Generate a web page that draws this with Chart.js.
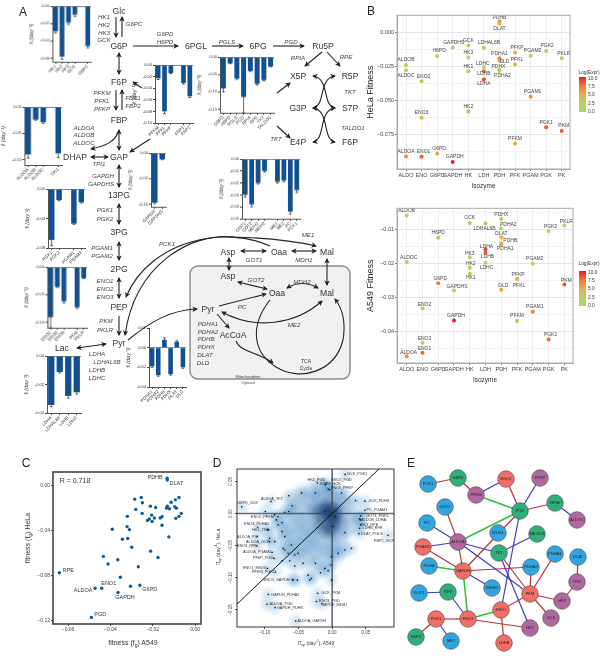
<!DOCTYPE html>
<html>
<head>
<meta charset="utf-8">
<title>Isozyme fitness</title>
<script src="https://cdn.jsdelivr.net/npm/chart.js@4/dist/chart.umd.js"></script>
<style>
  html, body { margin: 0; background: #fff; }
  #page { position: relative; width: 602px; height: 656px; overflow: hidden; }
  #page canvas { position: absolute; z-index: 1; }
  #overlay { position: absolute; left: 0; top: 0; z-index: 2; font-family: "Liberation Sans", Arial, sans-serif; }
</style>
</head>
<body>
<div id="page"></div>
<script>
// ---- panel A bar insets ----
const hkLabels = ['HK1','HK2','HK3','GCK','','G6PC'];
const hkValues = [-0.029,-0.058,-0.019,-0.010,null,-0.046];
const hkErrs = [0.002,0.003,0.002,0.002,0,0.002];
const hkTicks = [0,-0.02,-0.04,-0.06];

const pfkLabels = ['PFKM','PFKL','PFKP','','FBP1','FBP2'];
const pfkValues = [-0.023,-0.080,-0.014,null,-0.031,-0.054];
const pfkErrs = [0.002,0.004,0.001,0,0.002,0.002];
const pfkTicks = [0,-0.02,-0.04,-0.06,-0.08,-0.10];

const aldoLabels = ['ALDOA','ALDOB','ALDOC','','TPI1'];
const aldoValues = [-0.090,-0.024,-0.029,null,-0.088];
const aldoErrs = [0.007,0.001,0.002,0,0.008];
const aldoTicks = [0,-0.05,-0.10];

const gapdhLabels = ['GAPDH','GAPDHS'];
const gapdhValues = [-0.097,-0.012];
const gapdhErrs = [0.002,0.001];
const gapdhTicks = [0,-0.05,-0.10];

const pgkLabels = ['PGK1','PGK2','','PGAM1','PGAM2'];
const pgkValues = [-0.069,-0.015,null,-0.047,-0.018];
const pgkErrs = [0.008,0.001,0,0.001,0.001];
const pgkTicks = [0,-0.04,-0.08];

const enoLabels = ['ENO1','ENO2','ENO3','','PKM','PKLR'];
const enoValues = [-0.091,-0.036,-0.062,null,-0.073,-0.020];
const enoErrs = [0.019,0.001,0.003,0,0.002,0.001];
const enoTicks = [0,-0.05,-0.10];

const ldhLabels = ['LDHA','LDHAL6B','LDHB','LDHC'];
const ldhValues = [-0.0344,-0.0112,-0.0280,-0.0255];
const ldhErrs = [0.0012,0.0007,0.0016,0.0012];
const ldhTicks = [0,-0.02,-0.04];

const pdhLabels = ['PDHA1','PDHA2','PDHB','PDHX','DLAT','DLD'];
const pdhValues = [-0.019,-0.028,0.008,-0.027,0.006,-0.020];
const pdhErrs = [0.001,0.001,0.002,0.001,0.001,0.001];
const pdhTicks = [0.02,0,-0.02,-0.04];

const pppLabels = ['G6PD','H6PD','PGLS','PGD','RPIA','RPE','TKT','TALDO1'];
const pppValues = [-0.090,-0.018,-0.062,-0.115,-0.040,-0.077,-0.066,-0.027];
const pppErrs = [0.010,0.001,0.002,0.045,0.001,0.003,0.002,0.001];
const pppTicks = [0,-0.05,-0.10,-0.15];

const gotLabels = ['GOT1','GOT2','MDH1','MDH2','','ME1','ME2','PC','PCK1'];
const gotValues = [-0.030,-0.038,-0.020,-0.010,null,-0.019,-0.018,-0.044,-0.026];
const gotErrs = [0.002,0.002,0.001,0.001,0,0.001,0.001,0.002,0.002];
const gotTicks = [0,-0.01,-0.02,-0.03,-0.04,-0.05];

// ---- panel B ----
const isozymeGroups = ['ALDO','ENO','G6PD','GAPDH','HK','LDH','PDH','PFK','PGAM','PGK','PK'];
const helaNames = ['ALDOA','ALDOB','ALDOC','ENO1','ENO2','ENO3','G6PD','H6PD','GAPDH','GAPDHS','GCK','HK3','HK1','HK2','LDHAL6B','LDHC','LDHB','LDHA','PDHB','DLAT','PDHA1','DLD','PDHX','PDHA2','PFKP','PFKL','PFKM','PGAM2','PGAM1','PGK2','PGK1','PKLR','PKM'];
const helaGroup = [0,0,0,1,1,1,2,2,3,3,4,4,4,4,5,5,5,5,6,6,6,6,6,6,7,7,7,8,8,9,9,10,10];
const helaFitness = [-0.0908,-0.0238,-0.0277,-0.0910,-0.0357,-0.0624,-0.0886,-0.0172,-0.0949,-0.0109,-0.0095,-0.0184,-0.0284,-0.0578,-0.0112,-0.0252,-0.0282,-0.0345,0.0080,0.0066,-0.0189,-0.0206,-0.0272,-0.0282,-0.0146,-0.0235,-0.0813,-0.0170,-0.0471,-0.0136,-0.0694,-0.0189,-0.0721];
const helaExpr = [7,1,1,8.5,3,4,5.5,2,10,1.5,1,1.5,2,3.5,1,1,8,9,6.5,5,7.5,5.5,3,2.5,5,4.5,5.5,1.5,6.5,1,8.5,1,8.5];

const a549Names = ['ALDOA','ALDOB','ALDOC','ENO1','ENO2','ENO3','G6PD','H6PD','GAPDH','GAPDHS','GCK','HK3','HK2','HK1','LDHAL6B','LDHA','LDHB','LDHC','PDHX','PDHA2','DLAT','PDHB','PDHA1','DLD','PFKP','PFKL','PFKM','PGAM2','PGAM1','PGK2','PGK1','PKLR','PKM'];
const a549Group = [0,0,0,1,1,1,2,2,3,3,4,4,4,4,5,5,5,5,6,6,6,6,6,6,7,7,7,8,8,9,9,10,10];
const a549Fitness = [-0.0471,-0.0060,-0.0196,-0.0461,-0.0331,-0.0432,-0.0258,-0.0125,-0.0367,-0.0279,-0.0082,-0.0182,-0.0213,-0.0230,-0.0083,-0.0159,-0.0169,-0.0198,-0.0070,-0.0097,-0.0124,-0.0142,-0.0145,-0.0277,-0.0245,-0.0246,-0.0368,-0.0200,-0.0341,-0.0105,-0.0422,-0.0089,-0.0262];
const a549Expr = [7,1,1,8,3,3.5,7.5,3,10,1.5,1,1.5,1.5,3,1,9,8.5,1,3.5,1.5,5,5.5,5.5,5.5,5,5,3.5,1.5,7,1,8,1,8.5];

const helaYTicks = [0.0125,0,-0.0125,-0.025,-0.0375,-0.05,-0.0625,-0.075,-0.0875];
const helaYMajor = [0,-0.025,-0.05,-0.075];
const a549YTicks = [-0.005,-0.01,-0.015,-0.02,-0.025,-0.03,-0.035,-0.04,-0.045];
const a549YMajor = [-0.01,-0.02,-0.03,-0.04];
const exprLegendLabels = ['10.0','7.5','5.0','2.5','0.0'];

// ---- panel C ----
const cA549 = [-0.0132,-0.0131,-0.0076,-0.0093,-0.0113,-0.0254,-0.0285,-0.0249,-0.0211,-0.0186,-0.0131,-0.0135,-0.0121,-0.0096,-0.0088,-0.0065,-0.0076,-0.0091,-0.0280,-0.0250,-0.0320,-0.0205,-0.0192,-0.0216,-0.0225,-0.0203,-0.0156,-0.0165,-0.0156,-0.0321,-0.0310,-0.0391,-0.0124,-0.0343,-0.0318,-0.0299,-0.0210,-0.0175,-0.0433,-0.0365,-0.0411,-0.0268,-0.0641,-0.0353,-0.0261,-0.0305,-0.0441,-0.0472,-0.0364,-0.0490];
const cHeLa = [0.0068,0.0053,-0.0103,-0.0124,-0.0145,-0.0103,-0.0118,-0.0150,-0.0180,-0.0192,-0.0180,-0.0198,-0.0204,-0.0186,-0.0198,-0.0245,-0.0271,-0.0289,-0.0209,-0.0245,-0.0271,-0.0260,-0.0286,-0.0295,-0.0307,-0.0316,-0.0274,-0.0286,-0.0351,-0.0363,-0.0389,-0.0386,-0.0454,-0.0475,-0.0469,-0.0546,-0.0581,-0.0637,-0.0628,-0.0658,-0.0696,-0.0720,-0.0773,-0.0814,-0.0885,-0.0894,-0.0912,-0.0912,-0.0950,-0.1171];
const cNamed = {0:'PDHB',1:'DLAT',42:'RPE',44:'G6PD',46:'ENO1',47:'ALDOA',48:'GAPDH',49:'PGD'};
const cTicksX = [-0.06,-0.04,-0.02,0];
const cTicksY = [0,-0.04,-0.08,-0.12];

// ---- panel D ----
const dPairs = ['GCK_PGK1','HK1_PGD','ENO2_PGD','ENO3_GCK','ENO3_PFKP','G6PD_GCK','ALDOA_TKT','GCK_PDHX','PC_PGAM1','GOT1_PGK1','ALDOB_LDHA','HK3_RPE','LDHB_RPE','DLAT_PGLS','FBP2_GCK','ENO2_PFKM','ENO3_PDHA2','HK1_TKT','ALDOA_PC','ALDOA_GCK','ENO3_RPE','ALDOA_PGAM1','PFKP_PGD','ENO1_ENO3','PFKM_PGK1','ENO3_GAPDH','GAPDH_PDHA2','ALDOA_PGD','GAPDH_PDHX','ALDOA_GAPDH','GCK_PKM','ENO3_PGD','GAPDH_MDH1'];
const dPairA549 = [0.0193,-0.0218,-0.0084,-0.0099,-0.0035,-0.134,-0.0906,0.0485,0.0485,0.042,0.0406,0.042,0.0406,0.0396,0.0827,-0.099,-0.1104,-0.0941,-0.111,-0.0926,-0.1114,-0.0891,-0.0861,-0.096,-0.0841,-0.0589,-0.0946,-0.0965,-0.0847,-0.054,-0.0213,-0.0233,-0.0149];
const dPairHeLa = [0.0609,0.0474,0.0474,0.0448,0.037,0.0104,0.0187,0.0193,0.0052,-0.0036,-0.0083,-0.0177,-0.0229,-0.0313,-0.0339,0.0031,-0.0214,-0.0255,-0.0359,-0.0437,-0.0505,-0.0604,-0.0698,-0.0854,-0.0911,-0.1026,-0.126,-0.1411,-0.1464,-0.1672,-0.124,-0.137,-0.1401];
const dOtherA549 = [-0.0644,-0.0455,-0.0248,-0.0059,0.0139,0.0347,-0.0594,-0.0644,-0.0703,-0.0802,-0.0851,-0.0743,-0.0926,-0.0743,-0.0827,-0.0703,-0.0802,-0.096,-0.0851,-0.0728,-0.0604,-0.0653,-0.0554,-0.0743,-0.0629,-0.0554,-0.0505,-0.0431,-0.0356,-0.0332,-0.0248,-0.0173,-0.0109,-0.0059,-0.002,-0.001,0.0089,0.0188,0.0287,0.0188,0.0416,0.0015,-0.0579,-0.0515,-0.0307,0.004,-0.0109,-0.0703,-0.001];
const dOtherHeLa = [0.0276,0.0318,0.0318,0.038,0.0318,0.0203,0.012,0.0031,0.0021,-0.0047,-0.0021,-0.0141,-0.0386,-0.0281,-0.0099,-0.0359,-0.0177,-0.0255,-0.0438,-0.0542,-0.049,-0.062,-0.0646,-0.0735,-0.0735,-0.0818,-0.062,-0.0776,-0.0959,-0.1037,-0.0776,-0.0922,-0.0854,-0.0891,-0.0802,-0.0672,-0.062,-0.0568,-0.0542,-0.0297,-0.0099,-0.0203,-0.1037,-0.1037,-0.1011,-0.0047,0.0031,-0.0568,-0.1037];
const dDenseA549 = [-0.06,-0.05,-0.045,-0.04,-0.03,-0.02,-0.01,0,0.01,0.02,-0.055,-0.045,-0.035,-0.03,-0.02,-0.01,0.01,0.025,0.03,0.02,0.015,0.005,-0.005,-0.015,-0.025,-0.035,-0.045,-0.06,-0.05,-0.03,-0.015,0,0.01,-0.04,-0.07,-0.065,-0.02,-0.01,-0.03,0.005];
const dDenseHeLa = [0.01,0.02,0,0.03,0.025,0.035,0.03,0.03,0.025,0.02,-0.01,-0.02,-0.015,0.005,0.01,0.015,0.01,0.005,-0.01,-0.015,-0.03,-0.04,-0.05,-0.055,-0.05,-0.04,-0.04,-0.03,-0.055,-0.07,-0.08,-0.065,-0.055,-0.06,-0.02,-0.045,-0.03,-0.02,-0.03,-0.015];
const dCoreA549 = [0,0.002,-0.003,-0.006,0.004,-0.002,-0.01,0,-0.008,-0.015,-0.02,0.006,-0.004,-0.01,-0.025,-0.002,0.008,-0.015];
const dCoreHeLa = [0,0.002,-0.002,0.004,-0.006,-0.012,-0.005,-0.02,-0.025,0.002,-0.01,0.006,0.012,0.01,0.005,-0.03,-0.012,-0.02];
const dTicksX = [-0.10,-0.05,0,0.05];
const dTicksY = [0.05,0,-0.05,-0.10,-0.15];

// ---- panel E ----
const netNames = ['PCK1','G6PD','PFKM','ENO2','PFKP','PGD','RPIA','ALDOC','GOT2','PC','MDH1','TALDO1','ALDOA','PGAM1','TKT','PDHA1','DLAT','PDHB','GAPDH','PDHA2','TPI1','MDH2','GOT1','RPE','PKM','HK3','ENO1','GCK','ENO3','PGK1','HK1','H6PD','ME1','LDHB'];
const netX = [33,63,81,111,145,125,160,182,50,32,103,142,63,28,104,160,183,34,68,136,182,97,24,53,135,167,106,156,73,41,135,21,56,109];
const netY = [44,38,55,39,38,71,63,80,67,83,93,94,102,107,113,114,117,126,131,127,142,148,153,152,154,161,170,178,179,179,188,197,201,203];
const netType = ['transporter','other','pfk','red','pfk','other','other','pfk','transporter','transporter','transporter','other','pfk','red','other','transporter','transporter','transporter','red','transporter','pfk','transporter','transporter','other','red','pfk','red','pfk','red','red','pfk','other','transporter','red'];
const redEdges = [['PCK1','G6PD'],['G6PD','PFKM'],['ENO2','PGD'],['PGD','RPIA'],['PGD','GAPDH'],['GOT2','ALDOA'],['ALDOA','GAPDH'],['PGAM1','GAPDH'],['GAPDH','PDHA2'],['PDHA2','PKM'],['PKM','PDHA1'],['PKM','HK3'],['PKM','GCK'],['PKM','ENO1'],['TKT','PKM'],['ENO1','LDHB'],['ENO3','HK1'],['ENO3','PGK1'],['PGK1','H6PD'],['HK3','TPI1'],['TPI1','DLAT']];
const blueEdges = [['PFKM','ENO2'],['PFKP','PGD'],['RPIA','ALDOC'],['PC','ALDOA'],['PGAM1','ALDOA'],['ALDOA','TKT'],['ALDOA','PKM'],['TALDO1','TKT'],['GAPDH','MDH2'],['GOT1','RPE'],['RPE','ENO3'],['PGK1','ME1'],['PGD','ENO1'],['TKT','HK1']];
const greenEdges = [['PFKM','PGD'],['PGD','ALDOA'],['PDHB','GAPDH'],['GAPDH','ENO3'],['ENO3','ENO1']];

// ---- text and label placement ----
const helaLabelOffset = {ALDOC:[0,5.5],LDHC:[-1,-3],LDHB:[0,3],LDHA:[0,4.5],DLAT:[0,5],DLD:[5,1],PDHX:[-1,-3],PDHA2:[3,5],PDHB:[0,-4],PFKP:[2,-5],PFKL:[2,-5],PGAM2:[2,-5],LDHAL6B:[5,-5],GAPDHS:[1,-5],H6PD:[2,-5],G6PD:[2,-5],GAPDH:[2,-5],ENO1:[2,-5],ENO2:[2,-5],PKLR:[2,-5],PKM:[2,-5],PGK2:[1,-5],PGAM1:[2,-5]};
const a549LabelOffset = {ALDOC:[2,-4],LDHB:[2,4],LDHC:[1,5],LDHA:[1,-3],LDHAL6B:[-1,5],HK1:[1,4],HK2:[1,-4],HK3:[0,-4],PDHX:[0,-4],PDHA2:[7,-4],DLAT:[0,-4],PDHB:[9,-3],PDHA1:[4,4],PFKP:[1,-4],PFKL:[2,6],ALDOA:[2,-4],GAPDH:[2,-5],GAPDHS:[3,-4],G6PD:[2,-5],ENO1:[2,-4],ENO2:[2,-4],ENO3:[2,-4],PGK2:[2,-4],PKM:[2,-4],PGK1:[2,-5],PGAM2:[2,-5],PGAM1:[2,-5],PKLR:[2,-4],DLD:[2,-4]};
const cLabelOffset = {RPE:[9,-2],PDHB:[-12,-1],DLAT:[9,4],ENO1:[7,-5],ALDOA:[-12,2],G6PD:[10,4],GAPDH:[7,5],PGD:[9,-3]};
const dLabelOffset = {GCK_PGK1:[12,0],HK1_PGD:[-1,-3],ENO2_PGD:[15,-3],ENO3_GCK:[5,-1],ENO3_PFKP:[12,-2],G6PD_GCK:[6,-4],ALDOA_TKT:[1,-3],GCK_PDHX:[14,0],PC_PGAM1:[12,0],GOT1_PGK1:[17,0],ALDOB_LDHA:[14,1],HK3_RPE:[9,0],LDHB_RPE:[13,0],DLAT_PGLS:[13,0],FBP2_GCK:[-4,6],ENO2_PFKM:[-3,5],ENO3_PDHA2:[-1,-3],HK1_TKT:[-8,0],ALDOA_PC:[-10,0],ALDOA_GCK:[-12,0],ENO3_RPE:[-10,0],ALDOA_PGAM1:[-15,0],PFKP_PGD:[-11,0],ENO1_ENO3:[-13,0],PFKM_PGK1:[-12,0],ENO3_GAPDH:[-16,0],GAPDH_PDHA2:[17,0],ALDOA_PGD:[14,0],GAPDH_PDHX:[15,0],ALDOA_GAPDH:[16,0],GCK_PKM:[13,0],ENO3_PGD:[13,-1],GAPDH_MDH1:[12,1]};

const metabolites = [['Glc',119,11],['G6P',119,46],['6PGL',196,46],['6PG',258,46],['Ru5P',323,46],['X5P',298,76],['R5P',350,76],['G3P',298,108],['S7P',350,108],['E4P',298,142],['F6P',350,142],['F6P',119,82],['FBP',119,120],['DHAP',75,157],['GAP',119,157],['13PG',119,195],['3PG',119,232],['2PG',119,269],['PEP',119,307],['Pyr',119,343],['Lac',62,348],['Asp',228,252],['Oaa',279,252],['Mal',327,252],['Asp',228,276],['Oaa',277,293],['Mal',327,293],['Pyr',208,309],['AcCoA',233,335]];
const enzymes = [['HK1',104,16],['HK2',104,24],['HK3',104,32],['GCK',104,39],['G6PC',134,23],['G6PD',165,33],['H6PD',165,41],['PGLS',227,41],['PGD',291,41],['RPIA',298,57],['RPE',346,56],['TKT',350,91],['TALDO1',353,127],['TKT',276,138],['PFKM',102,92],['PFKL',102,100],['PFKP',102,108],['FBP1',133,97],['FBP2',133,105],['ALDOA',84,127],['ALDOB',84,134],['ALDOC',84,142],['TPI1',99,163],['GAPDH',103,175],['GAPDHS',101,183],['PGK1',105,209],['PGK2',105,218],['PGAM1',102,247],['PGAM2',102,255],['ENO1',105,280],['ENO2',105,288],['ENO3',105,296],['PKM',106,320],['PKLR',105,329],['LDHA',97,353],['LDHAL6B',107,361],['LDHB',97,369],['LDHC',97,377],['PCK1',167,243],['ME1',308,234],['GOT1',254,259],['MDH1',304,259],['GOT2',256,279],['MDH2',302,281],['PC',242,306],['ME2',294,324],['PDHA1',208,323],['PDHA2',208,331],['PDHB',206,338],['PDHX',206,346],['DLAT',205,354],['DLD',203,362]];

// arrows: path, then start/end heads
const arrows = [
  ['M116,17V37',0,1],['M122,37V17',0,1],['M133,46H178',0,1],['M119,53V74',1,1],
  ['M116,90V110',0,1],['M122,110V90',0,1],['M119,130V150',1,1],['M119,165V187',1,1],
  ['M119,204V224',1,1],['M119,242V260',1,1],['M119,278V298',1,1],['M119,316V335',0,1],
  ['M77,348L106,344',1,1],['M91,157H108',1,1],['M118,132C115,142 105,146 91,149',0,1],
  ['M142,88L133,82',0,1],['M150,139L130,152',0,1],
  ['M212,46H243',0,1],['M273,46H304',0,1],['M322,52L305,66',0,1],['M327,52L340,66',0,1],
  ['M277,93L290,83',0,1],['M277,126L290,138',0,1],
  ['M313,76C330,78 322,106 335,108',1,1],['M335,76C318,78 326,106 313,108',1,1],
  ['M313,108C330,110 322,140 335,142',1,1],['M335,108C318,110 326,140 313,142',1,1],
  ['M270,246C225,225 150,240 126,297',0,1],
  ['M125,335C135,265 190,232 235,237C265,238 295,241 316,246',1,1],
  ['M128,340C150,322 170,310 197,309',0,1],
  ['M241,251H266',1,1],['M292,251H316',1,1],['M327,259V285',1,1],['M229,258V270',1,1],
  ['M238,282L267,289',1,1],['M287,288Q302,279 318,288',1,1],
  ['M219,306L266,294',0,1],['M217,314L229,328',0,1],
  ['M222,312C255,330 295,325 322,301',1,1],
  ['M236,341C240,352 258,352 273,363',0,1],
  ['M270,300C250,325 252,352 276,367C300,382 335,372 343,340C346,322 342,308 335,299',0,1]
];

// ---- helpers ----
const page = document.getElementById('page');
Chart.defaults.font.family = '"Liberation Sans", Arial, sans-serif';
Chart.defaults.animation = false;
Chart.defaults.responsive = false;
Chart.defaults.layout.autoPadding = false;
Chart.defaults.plugins.legend.display = false;
Chart.defaults.plugins.tooltip.enabled = false;

function addCanvas(box, pad) {
  const c = document.createElement('canvas');
  const w = box.r - box.l + pad.l + pad.r, h = box.b - box.t + pad.t + pad.b;
  c.width = w; c.height = h;
  c.style.cssText = `left:${box.l - pad.l}px;top:${box.t - pad.t}px;width:${w}px;height:${h}px`;
  page.appendChild(c);
  return c;
}

const errorBarPlugin = errs => ({
  id: 'errorBars',
  afterDatasetsDraw(chart) {
    const { ctx, scales: { x, y } } = chart;
    const vals = chart.data.datasets[0].data;
    ctx.save();
    ctx.strokeStyle = '#222';
    ctx.lineWidth = 0.7;
    vals.forEach((v, i) => {
      if (v === null) return;
      const px = x.getPixelForValue(i);
      const end = y.getPixelForValue(v + Math.sign(v) * errs[i]);
      ctx.beginPath();
      ctx.moveTo(px, y.getPixelForValue(v));
      ctx.lineTo(px, end);
      ctx.moveTo(px - 1.4, end);
      ctx.lineTo(px + 1.4, end);
      ctx.stroke();
    });
    ctx.restore();
  }
});

const framePlugin = (color, width) => ({
  id: 'frame',
  afterDraw(chart) {
    const { ctx, chartArea: a } = chart;
    ctx.save();
    ctx.strokeStyle = color;
    ctx.lineWidth = width;
    ctx.strokeRect(a.left, a.top, a.right - a.left, a.bottom - a.top);
    ctx.restore();
  }
});

const labelPlugin = (dsIndex, names, offsets, font, color) => ({
  id: 'labels' + dsIndex,
  afterDatasetsDraw(chart) {
    const { ctx, scales: { x, y } } = chart;
    ctx.save();
    ctx.font = font;
    ctx.fillStyle = color;
    ctx.textAlign = 'center';
    ctx.textBaseline = 'middle';
    chart.data.datasets[dsIndex].data.forEach((p, i) => {
      if (!names[i]) return;
      const off = offsets[names[i]] || [0, -5];
      ctx.fillText(names[i], x.getPixelForValue(p.x) + off[0], y.getPixelForValue(p.y) + off[1]);
    });
    ctx.restore();
  }
});

function barInset(box, labels, values, errs, ticks, yMin) {
  const yMax = Math.max(...ticks);
  const pad = { l: box.l < 30 ? box.l : 24, r: 2, t: 4, b: 24 };
  new Chart(addCanvas(box, pad), {
    type: 'bar',
    data: { labels, datasets: [{ data: values, backgroundColor: '#12508f', barPercentage: 0.74, categoryPercentage: 1 }] },
    options: {
      layout: { padding: { top: pad.t, right: pad.r } },
      scales: {
        x: {
          grid: { offset: false, drawOnChartArea: false, tickLength: 2, tickColor: c => labels[c.index] === '' ? 'transparent' : '#444' },
          border: { color: '#555' },
          ticks: { autoSkip: false, minRotation: 45, maxRotation: 45, padding: 0, font: { size: 4.5 }, color: '#333' },
          afterFit: a => { a.height = pad.b; }
        },
        y: {
          min: yMin, max: yMax,
          afterBuildTicks: a => { a.ticks = ticks.map(value => ({ value })); },
          grid: { tickLength: 2, tickColor: '#444', color: c => c.tick.value === 0 ? '#888' : 'transparent', lineWidth: 1 },
          border: { color: '#555' },
          ticks: { autoSkip: false, padding: 1, font: { size: 4 }, color: '#333', callback: v => v.toFixed(2) },
          title: { display: true, text: 'f\u1D62 (day\u207B\u00B9)', font: { size: 5.5, style: 'italic' }, color: '#333', padding: 0 },
          afterFit: a => { a.width = pad.l; }
        }
      }
    },
    plugins: [errorBarPlugin(errs)]
  });
}

// expression to colour, same ramp as the legend
const exprStops = [[0,[168,214,112]],[2.5,[190,205,95]],[5,[226,176,78]],[7.5,[240,125,48]],[10,[236,26,48]]];
function exprColor(v) {
  for (let i = 1; i < exprStops.length; i++) {
    if (v <= exprStops[i][0]) {
      const [a, ca] = exprStops[i - 1], [b, cb] = exprStops[i];
      const t = (v - a) / (b - a);
      return `rgb(${ca.map((c, k) => Math.round(c + (cb[k] - c) * t)).join(',')})`;
    }
  }
  return 'rgb(236,26,48)';
}

function isozymePanel(box, xMin, xMax, yMin, yMax, names, groups, fit, expr, yTicks, yMajor, yTitle, offsets, fmt) {
  const pad = { l: 32, r: 3, t: 3, b: 22 };
  new Chart(addCanvas(box, pad), {
    type: 'scatter',
    data: { datasets: [{
      data: fit.map((y, i) => ({ x: groups[i], y })),
      pointRadius: 2, pointBorderWidth: 0,
      pointBackgroundColor: expr.map(exprColor)
    }] },
    options: {
      layout: { padding: { top: pad.t, right: pad.r } },
      scales: {
        x: {
          type: 'linear', min: xMin, max: xMax,
          afterBuildTicks: a => { a.ticks = isozymeGroups.map((_, value) => ({ value })); },
          grid: { color: '#eee', tickLength: 2, tickColor: '#777' }, border: { color: '#aaa' },
          ticks: { autoSkip: false, maxRotation: 0, padding: 1, font: { size: 5.5 }, color: '#444', callback: v => isozymeGroups[v] },
          title: { display: true, text: 'Isozyme', font: { size: 6.5 }, color: '#333', padding: 1 },
          afterFit: a => { a.height = pad.b; }
        },
        y: {
          min: yMin, max: yMax,
          afterBuildTicks: a => { a.ticks = yTicks.map(value => ({ value })); },
          grid: { color: c => yMajor.includes(c.tick.value) ? '#e6e6e6' : '#f3f3f3', tickLength: 2, tickColor: c => yMajor.includes(c.tick.value) ? '#777' : 'transparent' },
          border: { color: '#aaa' },
          ticks: { autoSkip: false, padding: 1, font: { size: 5.5 }, color: '#444', callback: v => yMajor.includes(v) ? fmt(v) : '' },
          title: { display: true, text: yTitle, font: { size: 9 }, color: '#222', padding: 0 },
          afterFit: a => { a.width = pad.l; }
        }
      }
    },
    plugins: [framePlugin('#aaa', 1), labelPlugin(0, names, offsets, '5px "Liberation Sans"', '#444')]
  });
}

// ---- panel A ----
barInset({ l: 52, t: 6, r: 90.5, b: 61.5 }, hkLabels, hkValues, hkErrs, hkTicks, -0.064);
barInset({ l: 155, t: 65, r: 193, b: 123 }, pfkLabels, pfkValues, pfkErrs, pfkTicks, -0.10);
barInset({ l: 24, t: 107, r: 61.5, b: 165 }, aldoLabels, aldoValues, aldoErrs, aldoTicks, -0.11);
barInset({ l: 151, t: 153, r: 166, b: 206.5 }, gapdhLabels, gapdhValues, gapdhErrs, gapdhTicks, -0.105);
barInset({ l: 48, t: 189, r: 85, b: 248 }, pgkLabels, pgkValues, pgkErrs, pgkTicks, -0.08);
barInset({ l: 47, t: 267, r: 86.5, b: 327.5 }, enoLabels, enoValues, enoErrs, enoTicks, -0.11);
barInset({ l: 46.5, t: 356, r: 81, b: 413 }, ldhLabels, ldhValues, ldhErrs, ldhTicks, -0.04);
barInset({ l: 149, t: 328, r: 186, b: 387 }, pdhLabels, pdhValues, pdhErrs, pdhTicks, -0.04);
barInset({ l: 219.5, t: 57, r: 273.5, b: 112.5 }, pppLabels, pppValues, pppErrs, pppTicks, -0.16);
barInset({ l: 241.7, t: 159.3, r: 300.2, b: 219 }, gotLabels, gotValues, gotErrs, gotTicks, -0.05);

// ---- panel B ----
const minusFmt3 = v => (v < 0 ? '\u2212' : '') + Math.abs(v).toFixed(3);
const minusFmt2 = v => (v < 0 ? '\u2212' : '') + Math.abs(v).toFixed(2);
isozymePanel({ l: 397, t: 14, r: 570, b: 169 }, -0.578, 10.53, -0.1, 0.0126, helaNames, helaGroup, helaFitness, helaExpr, helaYTicks, helaYMajor, 'HeLa Fitness', helaLabelOffset, minusFmt3);
isozymePanel({ l: 397, t: 207, r: 573, b: 363 }, -0.615, 10.55, -0.0491, -0.0039, a549Names, a549Group, a549Fitness, a549Expr, a549YTicks, a549YMajor, 'A549 Fitness', a549LabelOffset, minusFmt2);

// ---- panel C ----
(() => {
  const box = { l: 53, t: 471, r: 201, b: 624 };
  const pad = { l: 22, r: 3, t: 3, b: 10 };
  const names = cA549.map((_, i) => cNamed[i]);
  new Chart(addCanvas(box, pad), {
    type: 'scatter',
    data: { datasets: [{ data: cA549.map((x, i) => ({ x, y: cHeLa[i] })), pointRadius: 1.7, pointBorderWidth: 0, pointBackgroundColor: '#0f5a96' }] },
    options: {
      layout: { padding: { top: pad.t, right: pad.r } },
      scales: {
        x: {
          min: -0.0671, max: 0.0028,
          afterBuildTicks: a => { a.ticks = cTicksX.map(value => ({ value })); },
          grid: { drawOnChartArea: false, tickLength: 2, tickColor: '#444' }, border: { display: false },
          ticks: { autoSkip: false, maxRotation: 0, padding: 1, font: { size: 5 }, color: '#444', callback: minusFmt2 },
          afterFit: a => { a.height = pad.b; }
        },
        y: {
          min: -0.123, max: 0.0124,
          afterBuildTicks: a => { a.ticks = cTicksY.map(value => ({ value })); },
          grid: { drawOnChartArea: false, tickLength: 2, tickColor: '#444' }, border: { display: false },
          ticks: { autoSkip: false, padding: 1, font: { size: 5 }, color: '#444', callback: minusFmt2 },
          afterFit: a => { a.width = pad.l; }
        }
      }
    },
    plugins: [framePlugin('#444', 1.6), labelPlugin(0, names, cLabelOffset, '5.5px "Liberation Sans"', '#333')]
  });
})();

// ---- panel D ----
function blobImage(size, rgb, alpha) {
  const c = document.createElement('canvas');
  c.width = c.height = size;
  const g = c.getContext('2d');
  const grad = g.createRadialGradient(size / 2, size / 2, 0, size / 2, size / 2, size / 2);
  grad.addColorStop(0, `rgba(${rgb},${alpha})`);
  grad.addColorStop(0.5, `rgba(${rgb},${alpha * 0.45})`);
  grad.addColorStop(1, `rgba(${rgb},0)`);
  g.fillStyle = grad;
  g.fillRect(0, 0, size, size);
  return c;
}
(() => {
  const box = { l: 237, t: 469, r: 394, b: 627 };
  const pad = { l: 16, r: 3, t: 3, b: 12 };
  const dotsX = dPairA549.concat(dOtherA549), dotsY = dPairHeLa.concat(dOtherHeLa);
  const dots = dotsX.map((x, i) => ({ x, y: dotsY[i] }));
  const dense = dDenseA549.map((x, i) => ({ x, y: dDenseHeLa[i] }));
  const core = dCoreA549.map((x, i) => ({ x, y: dCoreHeLa[i] }));
  const line = (pts, color, width) => ({ data: pts, showLine: true, pointRadius: 0, borderColor: color, borderWidth: width });
  new Chart(addCanvas(box, pad), {
    type: 'scatter',
    data: { datasets: [
      { data: dots, pointRadius: 0.8, pointBorderWidth: 0, pointBackgroundColor: '#111' },
      line([{ x: -0.2, y: -0.2 }, { x: 0.1, y: 0.1 }], '#111', 1),
      line([{ x: 0, y: -0.2 }, { x: 0, y: 0.1 }], 'rgba(60,70,85,0.8)', 1.6),
      line([{ x: -0.2, y: 0 }, { x: 0.1, y: 0 }], 'rgba(60,70,85,0.8)', 1.6),
      { data: core, pointStyle: blobImage(22, '8,48,107', 0.36) },
      { data: dense, pointStyle: blobImage(30, '33,113,181', 0.26) },
      { data: dots, pointStyle: blobImage(18, '90,160,210', 0.36) }
    ] },
    options: {
      layout: { padding: { top: pad.t, right: pad.r } },
      scales: {
        x: {
          min: -0.141, max: 0.0916,
          afterBuildTicks: a => { a.ticks = dTicksX.map(value => ({ value })); },
          grid: { drawOnChartArea: false, tickLength: 2, tickColor: '#444' }, border: { display: false },
          ticks: { autoSkip: false, maxRotation: 0, padding: 1, font: { size: 4.5 }, color: '#444', callback: minusFmt2 },
          afterFit: a => { a.height = pad.b; }
        },
        y: {
          min: -0.1766, max: 0.0693,
          afterBuildTicks: a => { a.ticks = dTicksY.map(value => ({ value })); },
          grid: { drawOnChartArea: false, tickLength: 2, tickColor: '#444' }, border: { display: false },
          ticks: { display: false },
          afterFit: a => { a.width = pad.l; }
        }
      }
    },
    plugins: [
      framePlugin('#222', 0.9),
      labelPlugin(0, dPairs, dLabelOffset, '3.8px "Liberation Sans"', '#333'),
      {
        id: 'rotatedTicks',
        afterDraw(chart) {
          const { ctx, scales: { y } } = chart;
          ctx.save();
          ctx.font = '4.5px "Liberation Sans"';
          ctx.fillStyle = '#444';
          ctx.textAlign = 'center';
          dTicksY.forEach(v => {
            ctx.save();
            ctx.translate(pad.l - 5, y.getPixelForValue(v));
            ctx.rotate(-Math.PI / 2);
            ctx.fillText(minusFmt2(v), 0, 0);
            ctx.restore();
          });
          ctx.restore();
        }
      }
    ]
  });
})();

// ---- panel E ----
(() => {
  const box = { l: 395, t: 440, r: 602, b: 656 };
  const nodeColor = { red: '#f26d66', other: '#2fb07b', pfk: '#b0689f', transporter: '#31a5e0' };
  const pt = n => { const i = netNames.indexOf(n); return { x: netX[i], y: netY[i] }; };
  const edge = (e, color, width) => ({ data: [pt(e[0]), pt(e[1])], showLine: true, pointRadius: 0, borderColor: color, borderWidth: width });
  new Chart(addCanvas(box, { l: 0, r: 0, t: 0, b: 0 }), {
    type: 'scatter',
    data: { datasets: [
      {
        data: netNames.map(pt), pointRadius: 8.3, pointBorderWidth: 0.6, pointBorderColor: '#444',
        pointBackgroundColor: netType.map(t => nodeColor[t])
      },
      ...greenEdges.map(e => edge(e, '#2fbf3a', 1.5)),
      ...blueEdges.map(e => edge(e, '#3b3bc4', 1.2)),
      ...redEdges.map(e => edge(e, '#b8333a', 1.2))
    ] },
    options: {
      scales: {
        x: { display: false, min: 0, max: 207 },
        y: { display: false, min: 0, max: 216, reverse: true }
      }
    },
    plugins: [labelPlugin(0, netNames, Object.fromEntries(netNames.map(n => [n, [0, 0]])), '4px "Liberation Sans"', '#222')]
  });
})();

// ---- pathway drawing, panel letters, legends, axis titles ----
(() => {
  const txt = (s, x, y, size, extra = '') => `<text x="${x}" y="${y}" font-size="${size}" text-anchor="middle" dominant-baseline="central" ${extra}>${s}</text>`;
  let s = `<svg id="overlay" xmlns="http://www.w3.org/2000/svg" width="602" height="656">
  <defs>
    <marker id="head" viewBox="0 0 6 6" refX="5" refY="3" markerWidth="5.5" markerHeight="5.5" markerUnits="userSpaceOnUse" orient="auto-start-reverse"><path d="M0,0L6,3L0,6L1.6,3z" fill="#222"/></marker>
    <linearGradient id="exprRamp" x1="0" y1="1" x2="0" y2="0">
      <stop offset="0" stop-color="rgb(168,214,112)"/><stop offset="0.25" stop-color="rgb(190,205,95)"/><stop offset="0.5" stop-color="rgb(226,176,78)"/><stop offset="0.75" stop-color="rgb(240,125,48)"/><stop offset="1" stop-color="rgb(236,26,48)"/>
    </linearGradient>
  </defs>
  <rect x="190" y="266" width="160" height="113" rx="8" fill="#f1f1f3" stroke="#8a8a8a" stroke-width="1.4" style="mix-blend-mode:multiply"/>`;
  arrows.forEach(([d, start, end]) => {
    s += `<path d="${d}" fill="none" stroke="#222" stroke-width="1.1"${start ? ' marker-start="url(#head)"' : ''}${end ? ' marker-end="url(#head)"' : ''}/>`;
  });
  metabolites.forEach(([t, x, y]) => { s += txt(t, x, y, 8.6, 'fill="#333"'); });
  enzymes.forEach(([t, x, y]) => { s += txt(t, x, y, 6.2, 'fill="#444" font-style="italic"'); });
  s += txt('TCA', 306, 361, 5, 'fill="#333"') + txt('Cycle', 306, 368, 5, 'fill="#333"');
  s += txt('Mitochondrion', 248, 376, 4, 'fill="#444"') + txt('Cytosol', 248, 382, 4, 'fill="#444"');
  [['A', 23, 12], ['B', 371, 11], ['C', 26, 463], ['D', 217, 463], ['E', 411, 463]].forEach(([t, x, y]) => { s += txt(t, x, y, 12, 'fill="#222"'); });

  [[77, 72], [271, 263]].forEach(([top, titleY]) => {
    s += txt('Log(Expr)', 589, titleY, 4.8, 'fill="#333"');
    s += `<rect x="579" y="${top}" width="7" height="35" fill="url(#exprRamp)"/>`;
    exprLegendLabels.forEach((t, i) => {
      s += `<text x="588" y="${top + 1 + i * 8.4}" font-size="4.8" dominant-baseline="central" fill="#333">${t}</text>`;
    });
  });

  s += txt('R = 0.718', 75, 480, 7, 'fill="#333"');
  const sub = t => `<tspan baseline-shift="sub" font-size="5">${t}</tspan>`;
  s += txt(`fitness (f${sub('g')}) A549`, 133, 642, 7, 'fill="#333"');
  s += txt(`fitness (f${sub('g')}) HeLa`, 27, 538, 7, 'fill="#333" transform="rotate(-90 27 538)"');
  const sub4 = t => `<tspan baseline-shift="sub" font-size="3.4">${t}</tspan>`;
  const sup4 = t => `<tspan baseline-shift="super" font-size="3.4">${t}</tspan>`;
  s += txt(`\u03A0${sub4('ap')} (day${sup4('-1')}), A549`, 316, 643, 4.8, 'fill="#333"');
  s += txt(`\u03A0${sub4('ap')} (day${sup4('-1')}), HeLa`, 218, 547, 4.8, 'fill="#333" transform="rotate(-90 218 547)"');
  s += '</svg>';
  page.insertAdjacentHTML('beforeend', s);
})();
</script>
</body>
</html>
